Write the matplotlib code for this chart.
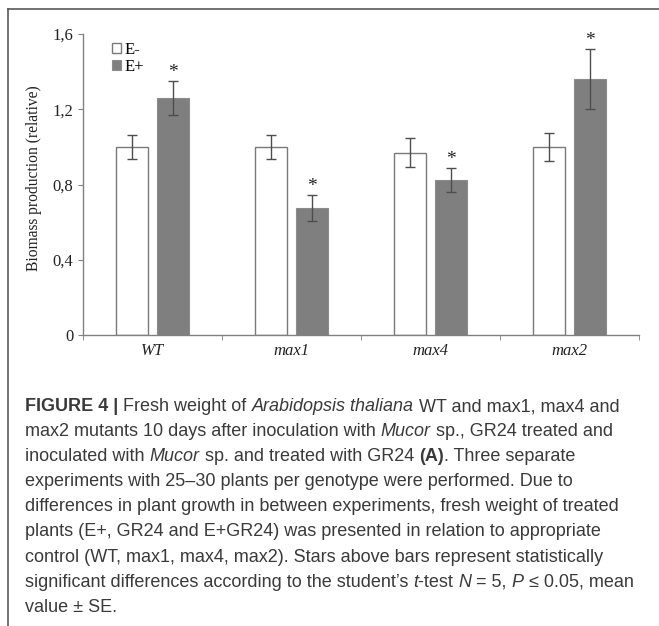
import numpy as np
import matplotlib.pyplot as plt
from matplotlib.lines import Line2D

# values
genotypes = ["WT", "max1", "max4", "max2"]
e_minus = [1.00, 1.00, 0.97, 1.00]
e_minus_se = [0.064, 0.064, 0.078, 0.075]
e_plus = [1.26, 0.675, 0.825, 1.36]
e_plus_se = [0.088, 0.067, 0.064, 0.16]
yticks = [0, 0.4, 0.8, 1.2, 1.6]
ytick_labels = ["0", "0,4", "0,8", "1,2", "1,6"]

# caption, one list of (text, style) runs per line
caption = [
    [("FIGURE 4 | ", "b"), ("Fresh weight of ", ""), ("Arabidopsis thaliana", "i"),
     (" WT and max1, max4 and", "")],
    [("max2 mutants 10 days after inoculation with ", ""), ("Mucor", "i"),
     (" sp., GR24 treated and", "")],
    [("inoculated with ", ""), ("Mucor", "i"), (" sp. and treated with GR24 ", ""),
     ("(A)", "b"), (". Three separate", "")],
    [("experiments with 25\u201330 plants per genotype were performed. Due to", "")],
    [("differences in plant growth in between experiments, fresh weight of treated", "")],
    [("plants (E+, GR24 and E+GR24) was presented in relation to appropriate", "")],
    [("control (WT, max1, max4, max2). Stars above bars represent statistically", "")],
    [("significant differences according to the student\u2019s ", ""), ("t", "i"),
     ("-test ", ""), ("N", "i"), (" = 5, ", ""), ("P", "i"), (" \u2264 0.05, mean", "")],
    [("value \u00b1 SE.", "")],
]

W, H = 659, 626
serif = "Liberation Serif"
axis_col = "#808080"
txt_col = "#222222"

fig = plt.figure(figsize=(W / 100, H / 100), dpi=100)
ax = fig.add_axes([83 / W, 1 - 335 / H, (639 - 83) / W, (335 - 34) / H])

x = np.arange(len(genotypes))
off, width = 0.144, 0.23
b1 = ax.bar(x - off, e_minus, width, color="white", edgecolor="#7a7a7a", linewidth=1, label="E-")
b2 = ax.bar(x + off, e_plus, width, color="#7f7f7f", edgecolor="#8c8c8c", linewidth=0.8, label="E+")
ax.errorbar(x - off, e_minus, yerr=e_minus_se, fmt="none", ecolor="#4d4d4d",
            elinewidth=1, capsize=3.5, capthick=1)
ax.errorbar(x + off, e_plus, yerr=e_plus_se, fmt="none", ecolor="#4d4d4d",
            elinewidth=1, capsize=3.5, capthick=1)

# significance stars
for xi, v, se in zip(x + off, e_plus, e_plus_se):
    ax.annotate("*", (xi, v + se), xytext=(0, 0), textcoords="offset points",
                ha="center", va="bottom", fontsize=14, family=serif, color=txt_col)

ax.set_xlim(-0.5, len(genotypes) - 0.5)
ax.set_ylim(0, 1.6)
ax.set_yticks(yticks)
ax.set_yticklabels(ytick_labels, family=serif, fontsize=12, color=txt_col)
ax.set_xticks(x)
ax.set_xticklabels(genotypes, family=serif, style="italic", fontsize=12, color=txt_col)
ax.set_xticks(np.arange(-0.5, len(genotypes)), minor=True)
ax.tick_params(axis="x", which="major", length=0, pad=6)
ax.tick_params(axis="x", which="minor", length=3.5, direction="out", color=axis_col)
ax.tick_params(axis="y", length=3.5, direction="out", color=axis_col)
for s in ["top", "right"]:
    ax.spines[s].set_visible(False)
for s in ["left", "bottom"]:
    ax.spines[s].set_color(axis_col)
    ax.spines[s].set_linewidth(1)

ax.set_ylabel("Biomass production (relative)", family=serif, fontsize=11.2, color=txt_col)
ax.yaxis.set_label_coords(-0.074, 0.52)

ax.legend(handles=[b1, b2], loc="upper left", bbox_to_anchor=(0.052, 0.975), frameon=False,
          handlelength=0.55, handleheight=0.55, handletextpad=0.2, labelspacing=0.1,
          borderpad=0, borderaxespad=0, prop={"family": serif, "size": 12})

# frame around the figure panel (top and left edges only are visible)
fc = "#5a5a5a"
fig.add_artist(Line2D([8 / W, 1], [1 - 9 / H, 1 - 9 / H], transform=fig.transFigure, color=fc, lw=1.2))
fig.add_artist(Line2D([8 / W, 8 / W], [0, 1 - 9 / H], transform=fig.transFigure, color=fc, lw=1.2))

# caption text
renderer = fig.canvas.get_renderer()
cap_font, cap_size, cap_col = "Liberation Sans", 13, "#3a3a3a"


def props(style):
    return dict(family=cap_font, fontsize=cap_size, color=cap_col,
                fontweight="bold" if "b" in style else "normal",
                fontstyle="italic" if "i" in style else "normal")


def advance(txt, style):
    t1 = fig.text(0, 0, txt + "|", **props(style))
    t2 = fig.text(0, 0, "|", **props(style))
    w = t1.get_window_extent(renderer).width - t2.get_window_extent(renderer).width
    t1.remove()
    t2.remove()
    return w


for i, runs in enumerate(caption):
    xp = 25
    yp = 411 + 25.1 * i
    for txt, style in runs:
        fig.text(xp / W, 1 - yp / H, txt, ha="left", va="baseline", **props(style))
        xp += advance(txt, style)

fig.savefig("out.png", dpi=100)
